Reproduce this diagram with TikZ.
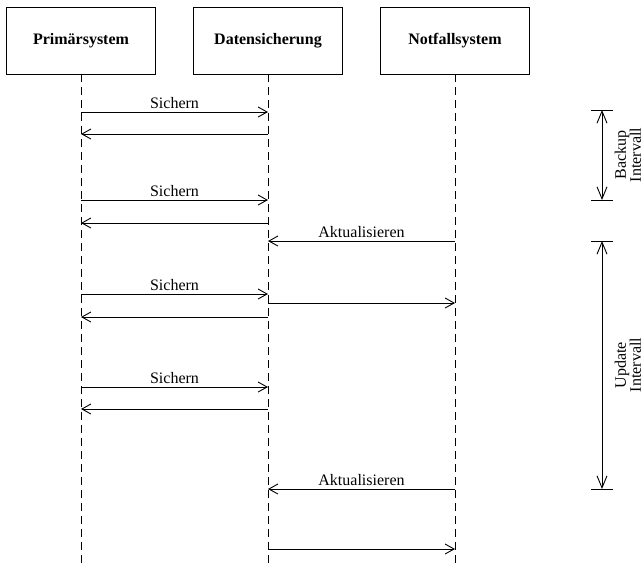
\documentclass[tikz,border=0pt]{standalone}
\usepackage{fontspec}
\setmainfont{Liberation Serif}
\usetikzlibrary{arrows.meta}
\begin{document}
\begin{tikzpicture}[x=1pt,y=-1pt,
  actor/.style={draw,line width=0.9pt,minimum width=149pt,minimum height=67pt,inner sep=0pt,font=\fontsize{16}{18}\selectfont\bfseries},
  life/.style={line width=0.8pt,dash pattern=on 8pt off 5pt},
  msg/.style={line width=0.9pt,-{Straight Barb[length=9pt,width=10pt,line width=0.9pt]}},
  lbl/.style={font=\fontsize{16}{18}\selectfont,inner sep=2.5pt},
  interval/.style={line width=0.9pt,{Straight Barb[length=12pt,width=10pt,line width=0.9pt]}-{Straight Barb[length=12pt,width=10pt,line width=0.9pt]}},
  tick/.style={line width=0.9pt},
  vlbl/.style={font=\fontsize{16}{15}\selectfont,rotate=90,align=center,inner sep=0pt}]
\useasboundingbox (0,0) rectangle (644,568);
\node[actor] (P) at (81,40.5) {Primärsystem};
\node[actor] (D) at (268,40.5) {Datensicherung};
\node[actor] (N) at (455,40.5) {Notfallsystem};
\coordinate (Pe) at (81,568);
\coordinate (De) at (268,568);
\coordinate (Ne) at (455,568);
\draw[life] (P.south) -- (Pe);
\draw[life] (D.south) -- (De);
\draw[life] (N.south) -- (Ne);
% messages
\foreach \n/\y in {a/112,b/134,c/200,d/223,e/241,f/294,g/303,h/317,i/387,j/409,k/489,l/549}{
  \coordinate (P\n) at (81,\y);
  \coordinate (D\n) at (268,\y);
  \coordinate (N\n) at (455,\y);
}
\draw[msg] (Pa) -- node[lbl,above] {Sichern} (Da);
\draw[msg] (Db) -- (Pb);
\draw[msg] (Pc) -- node[lbl,above] {Sichern} (Dc);
\draw[msg] (Dd) -- (Pd);
\draw[msg] (Ne) -- node[lbl,above] {Aktualisieren} (De);
\draw[msg] (Pf) -- node[lbl,above] {Sichern} (Df);
\draw[msg] (Dg) -- (Ng);
\draw[msg] (Dh) -- (Ph);
\draw[msg] (Pi) -- node[lbl,above] {Sichern} (Di);
\draw[msg] (Dj) -- (Pj);
\draw[msg] (Nk) -- node[lbl,above] {Aktualisieren} (Dk);
\draw[msg] (Dl) -- (Nl);
% intervals
\coordinate (b1) at (602,110);
\coordinate (b2) at (602,200);
\coordinate (u1) at (602,241);
\coordinate (u2) at (602,489);
\draw[tick] (591,110) -- (613,110);
\draw[tick] (591,200) -- (613,200);
\draw[tick] (591,241) -- (613,241);
\draw[tick] (591,489) -- (613,489);
\draw[interval] (b1) -- (b2);
\draw[interval] (u1) -- (u2);
\node[vlbl] (bl) at (628,155) {Backup\\Intervall};
\node[vlbl] (ul) at (628,365) {Update\\Intervall};
\end{tikzpicture}
\end{document}
